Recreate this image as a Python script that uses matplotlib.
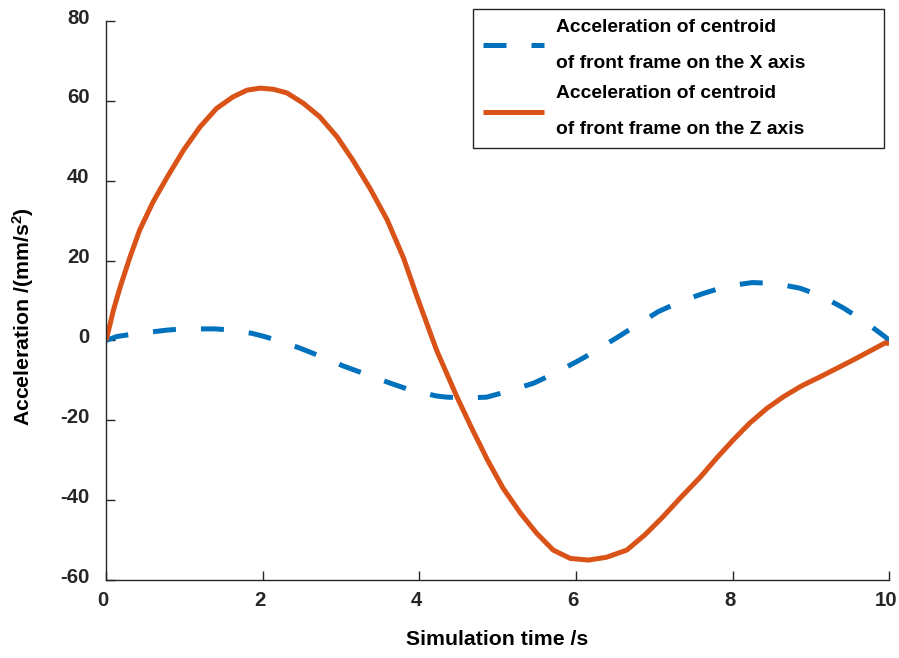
import matplotlib
matplotlib.use('Agg')
import matplotlib.pyplot as plt
from matplotlib.transforms import ScaledTranslation

plt.rcParams['font.family'] = ['Liberation Sans', 'DejaVu Sans']
plt.rcParams['font.weight'] = 'bold'
plt.rcParams['axes.unicode_minus'] = False
plt.rcParams['mathtext.fontset'] = 'custom'
plt.rcParams['mathtext.rm'] = 'Liberation Sans:bold'
plt.rcParams['mathtext.bf'] = 'Liberation Sans:bold'
plt.rcParams['mathtext.it'] = 'Liberation Sans:bold'

# values
t_x = [0, 0.14, 0.31, 0.78, 0.92, 1.24, 1.39, 1.54, 1.86, 2.0, 2.14, 2.46,
       2.73, 3.03, 3.31, 3.63, 3.90, 4.22, 4.35, 4.61, 4.86, 5.12, 5.46,
       5.71, 6.01, 6.12, 6.54, 6.78, 7.05, 7.33, 7.63, 7.93, 8.25, 8.54,
       8.86, 9.14, 9.42, 9.69, 9.95, 10]
acc_x = [0, 1.0, 1.5, 2.6, 2.8, 2.9, 2.9, 2.7, 1.8, 1.1, 0.3, -1.8,
         -3.9, -6.4, -8.4, -10.7, -12.5, -13.9, -14.2, -14.4, -14.2, -12.8, -10.7,
         -8.4, -5.3, -4.1, 0.9, 3.9, 7.2, 9.7, 11.8, 13.6, 14.5, 14.3,
         13.1, 11.1, 8.1, 4.7, 0.9, 0]

t_z = [0, 0.094, 0.18, 0.307, 0.43, 0.60, 0.78, 0.99, 1.2, 1.41, 1.62, 1.80,
       1.97, 2.14, 2.31, 2.52, 2.73, 2.95, 3.15, 3.37, 3.59, 3.80, 3.97, 4.22,
       4.48, 4.67, 4.87, 5.07, 5.29, 5.50, 5.71, 5.93, 6.16, 6.39, 6.65,
       6.88, 7.11, 7.35, 7.59, 7.8, 8.01, 8.22, 8.44, 8.65, 8.88, 9.12, 9.33,
       9.54, 9.76, 9.95, 10]
acc_z = [0, 7.6, 13.4, 21.0, 27.7, 34.7, 40.9, 47.7, 53.5, 58.1, 61.0, 62.7,
         63.2, 62.9, 62.0, 59.4, 56.0, 51.0, 45.2, 38.1, 30.2, 20.6, 11.0, -2.4,
         -14.1, -22.0, -29.9, -37.0, -43.2, -48.3, -52.5, -54.6, -55.0, -54.3, -52.5,
         -48.7, -44.2, -39.1, -34.2, -29.4, -24.9, -20.7, -17.0, -14.1, -11.4, -9.1, -7.0,
         -4.9, -2.6, -0.6, -0.8]

labels = ['Acceleration of centroid\nof front frame on the X axis',
          'Acceleration of centroid\nof front frame on the Z axis']

fig = plt.figure(figsize=(8.99, 6.58), dpi=100)
ax = fig.add_axes([0.118, 0.1185, 0.871, 0.8495])

ax.plot(t_x, acc_x, color='#0072BD', lw=3.6, dashes=(4.6, 5.0), label=labels[0])
ax.plot(t_z, acc_z, color='#D95319', lw=3.6, solid_capstyle='butt', label=labels[1])

ax.set_xlim(0, 10)
ax.set_ylim(-60, 80)
ax.set_xticks([0, 2, 4, 6, 8, 10])
ax.set_yticks([-60, -40, -20, 0, 20, 40, 60, 80])
for s in ['top', 'right']:
    ax.spines[s].set_visible(False)
for s in ['left', 'bottom']:
    ax.spines[s].set_color('#262626')
    ax.spines[s].set_linewidth(1.0)
ax.tick_params(direction='in', length=6.5, width=1.0, color='#262626',
               labelsize=14.7, labelcolor='#262626')
ax.tick_params(axis='y', pad=12)
ax.tick_params(axis='x', pad=8)

# tick labels in the reference are nudged slightly off their ticks
shift_y = ScaledTranslation(0, 5 / 100, fig.dpi_scale_trans)
for lab in ax.get_yticklabels():
    lab.set_transform(lab.get_transform() + shift_y)
shift_x = ScaledTranslation(-3 / 100, 0, fig.dpi_scale_trans)
for lab in ax.get_xticklabels():
    lab.set_transform(lab.get_transform() + shift_x)

ax.set_xlabel('Simulation time /s', fontsize=15.3, fontweight='bold', labelpad=14)
ax.set_ylabel('Acceleration /(mm/s$^{2}$)', fontsize=15.3, fontweight='bold')
ax.yaxis.set_label_coords(-0.09, 0.472)

leg = ax.legend(loc='upper left', bbox_to_anchor=(473 / 899, 1 - 9 / 658, 411 / 899, 0),
                bbox_transform=fig.transFigure, mode='expand', fancybox=False,
                edgecolor='#262626', framealpha=1, fontsize=13.9,
                handlelength=3.16, handletextpad=0.62, borderpad=0.5,
                borderaxespad=0, labelspacing=0.7)
leg.get_frame().set_linewidth(1.0)
for txt in leg.get_texts():
    txt.set_linespacing(2.47)
    txt.set_fontweight('bold')

plt.savefig('out.png', dpi=100)
